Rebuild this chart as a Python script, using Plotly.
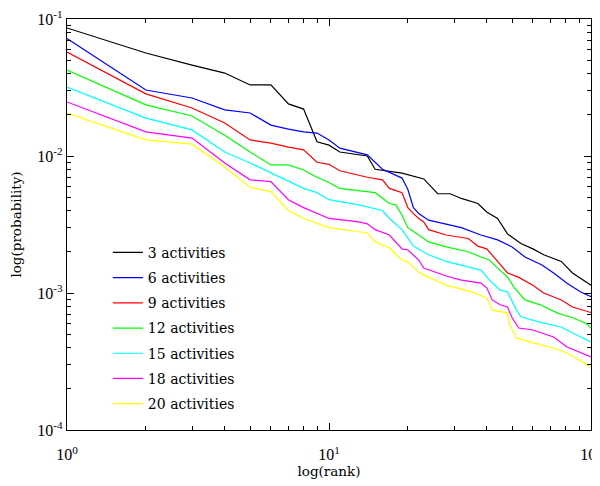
import plotly.graph_objects as go

series_names = ["3 activities", "6 activities", "9 activities", "12 activities",
                "15 activities", "18 activities", "20 activities"]
series_colors = ["#000000", "#0000FF", "#FF0000", "#00FF00", "#00FFFF", "#FF00FF", "#FFFF00"]

rank_3 = [1, 2, 3, 4, 5, 6, 7, 8, 9, 10, 11, 14, 15, 19, 23, 26, 29, 32, 37, 40, 44, 48, 54, 60, 66, 77, 85, 100]
prob_3 = [0.086, 0.0565, 0.0461, 0.0403, 0.033, 0.033, 0.024, 0.022, 0.0127, 0.012, 0.0107, 0.0100, 0.0080,
          0.0075, 0.0068, 0.0053, 0.0053, 0.0049, 0.0045, 0.0039, 0.0035, 0.0027, 0.0023, 0.0021, 0.0019,
          0.0017, 0.0014, 0.00114]

rank_6 = [1, 2, 3, 4, 5, 6, 7, 8, 9, 10, 11, 14, 16, 19, 20, 21, 22, 24, 32, 38, 44, 50, 56, 65, 72, 81, 91, 100]
prob_6 = [0.0721, 0.0303, 0.0265, 0.0217, 0.0206, 0.0168, 0.0157, 0.0150, 0.0147, 0.0131, 0.0114, 0.0102,
          0.0080, 0.0069, 0.0057, 0.0042, 0.0038, 0.0034, 0.0030, 0.00265, 0.00244, 0.00217, 0.00183,
          0.0016, 0.0014, 0.00118, 0.00102, 0.00094]

rank_9 = [1, 2, 3, 4, 5, 6, 7, 8, 9, 10, 11, 14, 16, 17, 19, 20, 21, 22, 23, 24, 28, 34, 37, 40, 44, 48, 53,
          60, 66, 77, 85, 100]
prob_9 = [0.0574, 0.0284, 0.0224, 0.0174, 0.0131, 0.0124, 0.0116, 0.0111, 0.0090, 0.0087, 0.0078, 0.0070,
          0.0067, 0.0058, 0.0054, 0.0042, 0.0038, 0.0035, 0.0033, 0.0029, 0.00265, 0.0025, 0.0022, 0.0021,
          0.0017, 0.0014, 0.0013, 0.00114, 0.0010, 0.00089, 0.00079, 0.00072]

rank_12 = [1, 2, 3, 4, 5, 6, 7, 8, 9, 10, 11, 14, 15, 17, 18, 19, 20, 22, 24, 28, 34, 38, 41, 44, 48, 51,
           56, 64, 75, 85, 96, 100]
prob_12 = [0.0424, 0.0236, 0.0196, 0.0142, 0.0107, 0.0086, 0.0086, 0.0079, 0.0070, 0.0064, 0.0058, 0.0055,
           0.0054, 0.0045, 0.0044, 0.0037, 0.0030, 0.00265, 0.00236, 0.00217, 0.0020, 0.00183, 0.00174,
           0.00152, 0.00131, 0.00109, 0.00089, 0.00082, 0.00071, 0.00066, 0.0006, 0.000555]

rank_15 = [1, 2, 3, 4, 5, 6, 7, 8, 9, 10, 13, 16, 17, 19, 21, 24, 28, 34, 38, 41, 45, 48, 50, 52, 54, 64,
           77, 85, 100]
prob_15 = [0.0319, 0.0189, 0.0155, 0.0107, 0.0089, 0.0075, 0.0065, 0.0058, 0.0054, 0.0048, 0.0044, 0.0040,
           0.0035, 0.0029, 0.0022, 0.0019, 0.0017, 0.00155, 0.00147, 0.00124, 0.00105, 0.00102, 0.00086,
           0.00075, 0.00067, 0.00061, 0.000565, 0.00051, 0.00044]

rank_18 = [1, 2, 3, 4, 5, 6, 7, 8, 10, 13, 14, 15, 17, 19, 20, 22, 23, 28, 32, 38, 40, 42, 45, 48, 50, 53,
           60, 72, 81, 100]
prob_18 = [0.0248, 0.0150, 0.0135, 0.0089, 0.0067, 0.0065, 0.0048, 0.0042, 0.0035, 0.0033, 0.0032, 0.0029,
           0.00265, 0.0021, 0.00206, 0.00174, 0.00152, 0.00133, 0.00124, 0.00118, 0.00109, 0.00089,
           0.00082, 0.00079, 0.00066, 0.000555, 0.000537, 0.000477, 0.000403, 0.000341]

rank_20 = [1, 2, 3, 4, 5, 6, 7, 8, 10, 13, 14, 15, 17, 19, 20, 22, 23, 28, 35, 40, 42, 48, 49, 52, 60, 72,
           81, 100]
prob_20 = [0.0206, 0.0131, 0.0122, 0.0083, 0.0059, 0.0055, 0.0040, 0.0035, 0.0030, 0.0028, 0.00274, 0.00236,
           0.00213, 0.00174, 0.00168, 0.00142, 0.00135, 0.00114, 0.00102, 0.00092, 0.00075, 0.000714,
           0.000584, 0.00047, 0.000432, 0.000397, 0.000365, 0.000288]

ranks = [rank_3, rank_6, rank_9, rank_12, rank_15, rank_18, rank_20]
probs = [prob_3, prob_6, prob_9, prob_12, prob_15, prob_18, prob_20]

x_tick_vals = [1, 10, 100]
x_tick_text = ["10<sup>0</sup>", "10<sup>1</sup>", "10<sup>2</sup>"]
y_tick_vals = [1e-4, 1e-3, 1e-2, 1e-1]
y_tick_text = ["10<sup>-4</sup>", "10<sup>-3</sup>", "10<sup>-2</sup>", "10<sup>-1</sup>"]
x_minor = [m * 10 ** e for e in range(0, 2) for m in range(2, 10)]
y_minor = [m * 10.0 ** e for e in range(-4, -1) for m in range(2, 10)]

tick_font = "Liberation Serif"
text_font = "DejaVu Serif"

fig = go.Figure()
for i, (name, color) in enumerate(zip(series_names, series_colors)):
    fig.add_trace(go.Scatter(
        x=ranks[i], y=probs[i], mode="lines", name=name,
        line=dict(color=color, width=1.2),
        legendgroup=name,
    ))

axis_common = dict(
    type="log", showline=True, mirror="ticks", linecolor="black", linewidth=1.2,
    ticks="inside", ticklen=7, tickcolor="black", tickwidth=1,
    showgrid=False, zeroline=False, automargin=False, ticklabeloverflow="allow",
    tickfont=dict(family=tick_font, size=16, color="black"),
    title_font=dict(family=text_font, size=13.5, color="black"),
)

fig.update_xaxes(
    **axis_common, range=[0, 2], tickvals=x_tick_vals, ticktext=x_tick_text,
    minor=dict(tickvals=x_minor, ticks="inside", ticklen=4, tickcolor="black", showgrid=False),
    title_text="log(rank)", title_standoff=2, ticklabelstandoff=10,
)
fig.update_yaxes(
    **axis_common, range=[-4, -1], tickvals=y_tick_vals, ticktext=y_tick_text,
    minor=dict(tickvals=y_minor, ticks="inside", ticklen=4, tickcolor="black", showgrid=False),
    title_text="log(probability)", title_standoff=18,
)

# The page body adds an 8px offset, so the figure is sized to fill the 600x486 window exactly.
fig.update_layout(
    width=592, height=478,
    margin=dict(l=59, r=9, t=11, b=56),
    paper_bgcolor="white", plot_bgcolor="white",
    font=dict(family=text_font, size=14, color="black"),
    legend=dict(
        x=0.078, y=0.470, xanchor="left", yanchor="top",
        bgcolor="rgba(0,0,0,0)", borderwidth=0,
        font=dict(family=text_font, size=14, color="black"),
        traceorder="grouped", tracegroupgap=4,
    ),
    showlegend=True,
)

fig.write_html("out.html")
